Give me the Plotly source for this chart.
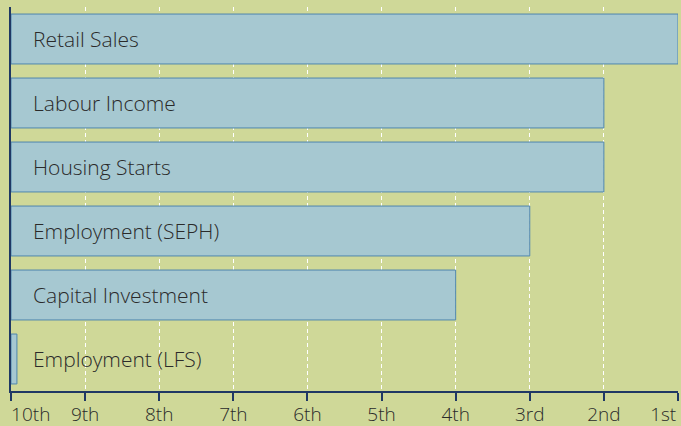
import plotly.graph_objects as go

categories = ["Retail Sales", "Labour Income", "Housing Starts",
              "Employment (SEPH)", "Capital Investment", "Employment (LFS)"]
# score: 0 = 10th, 9 = 1st
scores = [9, 8, 8, 7, 6, 0.08]
tick_vals = list(range(10))
tick_labels = ["10th", "9th", "8th", "7th", "6th", "5th", "4th", "3rd", "2nd", "1st"]

nb = "\u00a0"
display_ticks = list(tick_labels)
display_ticks[0] = nb * 8 + tick_labels[0]
display_ticks[-1] = tick_labels[-1] + nb * 6

BG = "#cfd898"
BAR = "#a6c8d1"
NAVY = "#1f3864"
FONT = "Open Sans"

fig = go.Figure()
fig.add_trace(go.Bar(
    x=scores, y=categories, orientation="h",
    marker=dict(color=BAR, line=dict(color="#4f86ad", width=1)),
    hoverinfo="skip",
))

for c in categories:
    fig.add_annotation(x=0, y=c, text=c, showarrow=False, xanchor="left",
                       xshift=20, font=dict(family=FONT, size=21, color="#2a2a2a", weight=300))

fig.update_layout(
    width=681, height=426,
    margin=dict(l=11, r=3, t=7, b=35, autoexpand=False),
    paper_bgcolor=BG, plot_bgcolor=BG,
    showlegend=False, bargap=0.22,
    font=dict(family=FONT, size=19, color="#2a2a2a", weight=300),
    xaxis=dict(range=[0, 9], tickvals=tick_vals, ticktext=display_ticks,
               ticklabeloverflow="allow", automargin=False, ticklabelstandoff=-3,
               showgrid=True, gridcolor="white", gridwidth=1, griddash="4px,3px",
               showline=True, linecolor=NAVY, linewidth=2,
               ticks="outside", ticklen=8, tickwidth=2, tickcolor=NAVY,
               zeroline=False, fixedrange=True),
    yaxis=dict(categoryorder="array", categoryarray=categories, autorange="reversed",
               showticklabels=False, showgrid=False, automargin=False,
               showline=True, linecolor=NAVY, linewidth=2, zeroline=False,
               fixedrange=True),
)

fig.write_html("out.html", config={"displayModeBar": False})
with open("out.html", encoding="utf-8") as f:
    html = f.read()
html = html.replace("<body>", '<body style="margin:0;padding:0;overflow:hidden">', 1)
with open("out.html", "w", encoding="utf-8") as f:
    f.write(html)
